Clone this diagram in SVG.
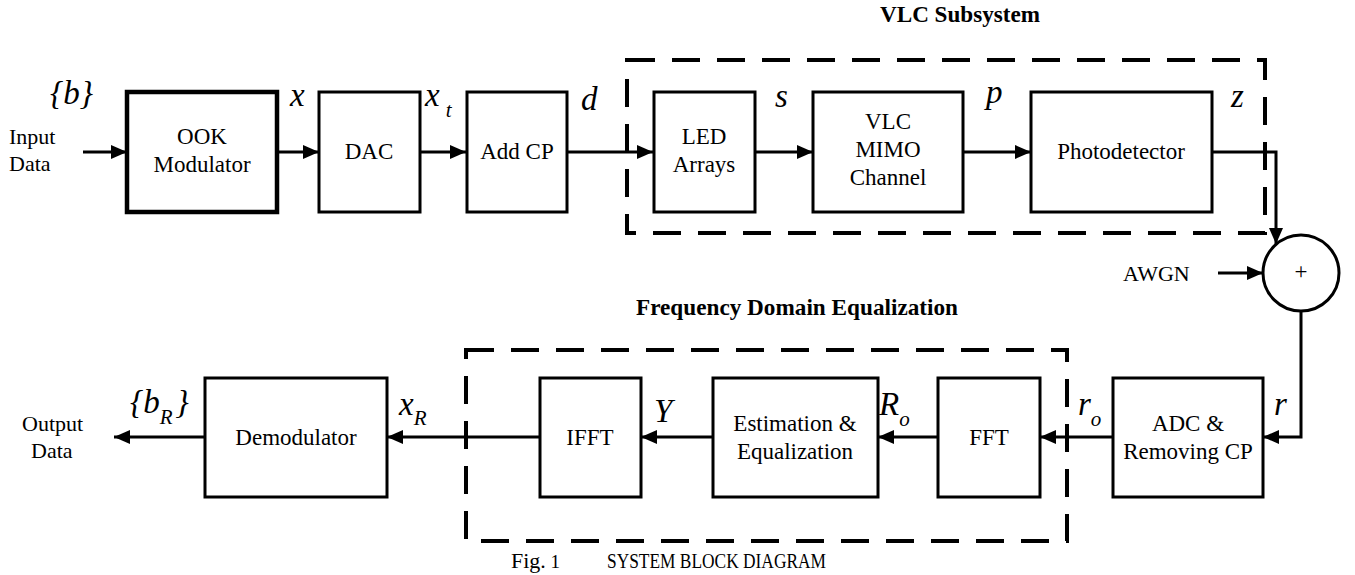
<svg xmlns="http://www.w3.org/2000/svg" width="1355" height="575" viewBox="0 0 1355 575" font-family="'Liberation Serif', 'Times New Roman', 'DejaVu Serif', serif">
<defs>
<marker id="ah" markerUnits="userSpaceOnUse" markerWidth="16" markerHeight="14" refX="16" refY="7" orient="auto">
<path d="M0,0 L16,7 L0,14 z" fill="#000"/>
</marker>
<style>
.box{fill:#fff;stroke:#000;stroke-width:3}
.thick{stroke-width:4.5}
.dash{fill:none;stroke:#000;stroke-width:4;stroke-dasharray:28 17}
.t{font-size:23px;fill:#000;text-anchor:middle}
.tl{font-size:22px;fill:#000}
.m{font-style:italic;font-size:33px;fill:#000}
.sub{font-size:21px}
.b{font-weight:bold;font-size:23px;fill:#000;text-anchor:middle}
.c{fill:none;stroke:#000;stroke-width:3}
</style>
</defs>
<rect width="1355" height="575" fill="#fff"/>

<g id="vlc-subsystem">
<rect class="dash" x="627" y="60" width="638" height="173"/>
<text class="b" x="960" y="22" textLength="160" lengthAdjust="spacingAndGlyphs">VLC Subsystem</text>
</g>
<g id="fde">
<rect class="dash" x="466" y="350" width="601" height="191"/>
<text class="b" x="797" y="315" textLength="322" lengthAdjust="spacingAndGlyphs">Frequency Domain Equalization</text>
</g>

<g id="connectors" fill="none" stroke="#000" stroke-width="3">
<line x1="83" y1="152" x2="127" y2="152" marker-end="url(#ah)"/>
<line x1="277" y1="152" x2="319" y2="152" marker-end="url(#ah)"/>
<line x1="420" y1="152" x2="466" y2="152" marker-end="url(#ah)"/>
<line x1="567" y1="152" x2="653" y2="152" marker-end="url(#ah)"/>
<line x1="755" y1="152" x2="813" y2="152" marker-end="url(#ah)"/>
<line x1="963" y1="152" x2="1031" y2="152" marker-end="url(#ah)"/>
<polyline points="1212,152 1276,152 1276,244" marker-end="url(#ah)"/>
<line x1="1218" y1="273" x2="1263" y2="273" marker-end="url(#ah)"/>
<polyline points="1301,311 1301,437 1263,437" marker-end="url(#ah)"/>
<line x1="1113" y1="437" x2="1040" y2="437" marker-end="url(#ah)"/>
<line x1="938" y1="437" x2="878" y2="437" marker-end="url(#ah)"/>
<line x1="713" y1="437" x2="641" y2="437" marker-end="url(#ah)"/>
<line x1="540" y1="437" x2="387" y2="437" marker-end="url(#ah)"/>
<line x1="205" y1="437" x2="114" y2="437" marker-end="url(#ah)"/>
</g>

<g id="input">
<text class="tl" x="9" y="144">Input</text>
<text class="tl" x="9" y="171">Data</text>
<text class="m" x="50" y="104" font-size="31">{b}</text>
</g>
<g id="ook">
<rect class="box thick" x="127" y="92" width="150" height="120"/>
<text class="t" x="202" y="144">OOK</text>
<text class="t" x="202" y="172">Modulator</text>
</g>
<text class="m" x="290" y="106">x</text>
<g id="dac">
<rect class="box" x="319" y="92" width="101" height="120"/>
<text class="t" x="369" y="159">DAC</text>
</g>
<text class="m" x="425" y="106">x<tspan class="sub" dx="6" dy="11">t</tspan></text>
<g id="addcp">
<rect class="box" x="467" y="92" width="100" height="120"/>
<text class="t" x="517" y="159">Add CP</text>
</g>
<text class="m" x="581" y="110">d</text>
<g id="led">
<rect class="box" x="654" y="92" width="101" height="120"/>
<text class="t" x="704" y="144">LED</text>
<text class="t" x="704" y="172">Arrays</text>
</g>
<text class="m" x="775" y="107">s</text>
<g id="mimo">
<rect class="box" x="813" y="92" width="150" height="120"/>
<text class="t" x="888" y="129">VLC</text>
<text class="t" x="888" y="157">MIMO</text>
<text class="t" x="888" y="185">Channel</text>
</g>
<text class="m" x="986" y="103">p</text>
<g id="photodetector">
<rect class="box" x="1031" y="92" width="181" height="120"/>
<text class="t" x="1121" y="159">Photodetector</text>
</g>
<text class="m" x="1231" y="107">z</text>
<g id="adder">
<circle class="c" cx="1301" cy="273" r="38"/>
<text class="t" x="1301" y="279" font-size="18">+</text>
<text class="tl" x="1123" y="281" font-size="23">AWGN</text>
</g>
<g id="adc">
<rect class="box" x="1113" y="378" width="150" height="119"/>
<text class="t" x="1188" y="431">ADC &amp;</text>
<text class="t" x="1188" y="459">Removing CP</text>
</g>
<text class="m" x="1274" y="415">r</text>
<text class="m" x="1078" y="415">r<tspan class="sub" dy="11">o</tspan></text>
<g id="fft">
<rect class="box" x="938" y="378" width="102" height="119"/>
<text class="t" x="989" y="445">FFT</text>
</g>
<text class="m" x="879" y="415">R<tspan class="sub" dy="11">o</tspan></text>
<g id="estimation">
<rect class="box" x="713" y="378" width="165" height="119"/>
<text class="t" x="795" y="431">Estimation &amp;</text>
<text class="t" x="795" y="459">Equalization</text>
</g>
<text class="m" x="654" y="422">Y</text>
<g id="ifft">
<rect class="box" x="540" y="378" width="101" height="119"/>
<text class="t" x="590" y="445">IFFT</text>
</g>
<text class="m" x="399" y="415">x<tspan class="sub" dy="10">R</tspan></text>
<g id="demodulator">
<rect class="box" x="205" y="378" width="182" height="119"/>
<text class="t" x="296" y="445">Demodulator</text>
</g>
<text class="m" x="130" y="413" font-size="31">{b<tspan class="sub" dy="11">R</tspan><tspan dy="-11" dx="3">}</tspan></text>
<g id="output">
<text class="tl" x="22" y="431">Output</text>
<text class="tl" x="31" y="458">Data</text>
</g>
<g id="caption">
<text class="tl" x="511" y="568" font-size="24">Fig.<tspan font-size="19"> 1</tspan></text>
<text class="tl" x="607" y="568" font-size="14" textLength="219" lengthAdjust="spacingAndGlyphs">SYSTEM BLOCK DIAGRAM</text>
</g>
</svg>
